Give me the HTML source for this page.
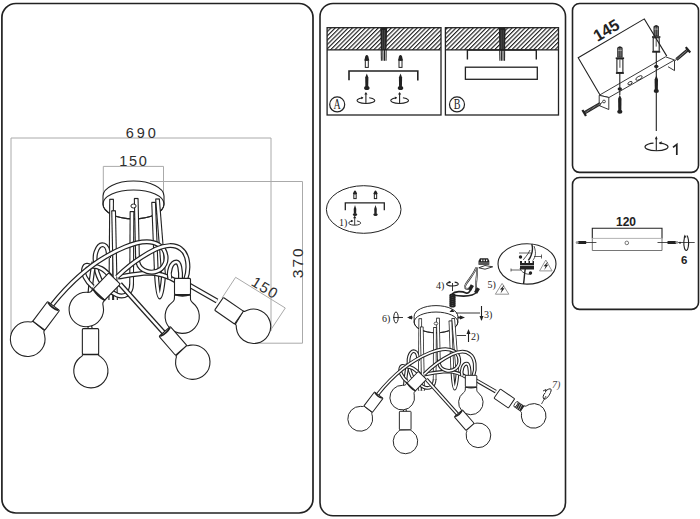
<!DOCTYPE html>
<html><head><meta charset="utf-8"><style>
html,body{margin:0;padding:0;background:#fff;width:700px;height:519px;overflow:hidden}
svg{display:block}
</style></head><body>
<svg width="700" height="519" viewBox="0 0 700 519">
<defs><pattern id="h" width="3.05" height="3.05" patternUnits="userSpaceOnUse" patternTransform="rotate(-45)"><rect x="0" y="0" width="3.05" height="1.15" fill="#222"/></pattern></defs><rect x="1.9" y="3.5" width="311.1" height="509.5" rx="14" ry="14" fill="none" stroke="#222" stroke-width="1.7"/><rect x="320" y="3.5" width="245.5" height="512.3" rx="13" ry="13" fill="none" stroke="#222" stroke-width="1.6"/><rect x="572.5" y="3.5" width="126.0" height="168.9" rx="7" ry="7" fill="none" stroke="#222" stroke-width="1.6"/><rect x="572.5" y="177.5" width="126.0" height="131.89999999999998" rx="7" ry="7" fill="none" stroke="#222" stroke-width="1.6"/><polyline points="11,334 11,138 271,138 271,331" fill="none" stroke="#aaaaaa" stroke-width="1"/><polyline points="103.3,196 103.3,166.4 163.5,166.4 163.5,198" fill="none" stroke="#aaaaaa" stroke-width="1"/><polyline points="150,181.5 302.5,181.5 302.5,343.2 253,343.2" fill="none" stroke="#aaaaaa" stroke-width="1"/><polyline points="222,298 235.6,277.3 285.3,308 270,331" fill="none" stroke="#aaaaaa" stroke-width="1"/><path d="M103,196 A30.5,15 0 0 1 164,196 L164,204 A30.5,15 0 0 1 103,204 Z" fill="#fff" stroke="#222" stroke-width="1.1"/><path d="M103,204 A30.5,14 0 0 1 164,204" fill="none" stroke="#222" stroke-width="1.1"/><path d="M103,204 A30.5,15 0 0 0 164,204" fill="none" stroke="#222" stroke-width="1.1"/><path d="M157.5,199 L163.6,275.5" fill="none" stroke="#222" stroke-width="4.8" stroke-linecap="butt"/><path d="M157.5,199 L163.6,275.5" fill="none" stroke="#fff" stroke-width="2.5999999999999996" stroke-linecap="butt"/><line x1="155.4" y1="199" x2="159.6" y2="199" stroke="#222" stroke-width="1.2"/><path d="M136.2,198.5 L137.5,258" fill="none" stroke="#222" stroke-width="4.8" stroke-linecap="butt"/><path d="M136.2,198.5 L137.5,258" fill="none" stroke="#fff" stroke-width="2.5999999999999996" stroke-linecap="butt"/><line x1="134.1" y1="198.5" x2="138.29999999999998" y2="198.5" stroke="#222" stroke-width="1.2"/><path d="M111.6,199.3 L110.8,300" fill="none" stroke="#222" stroke-width="4.8" stroke-linecap="butt"/><path d="M111.6,199.3 L110.8,300" fill="none" stroke="#fff" stroke-width="2.5999999999999996" stroke-linecap="butt"/><line x1="109.49999999999999" y1="199.3" x2="113.7" y2="199.3" stroke="#222" stroke-width="1.2"/><ellipse cx="133.5" cy="206" rx="2.6" ry="2" fill="#fff" stroke="#222" stroke-width="1"/><path d="M153.6,202.4 L156.2,268.7" fill="none" stroke="#222" stroke-width="4.8" stroke-linecap="butt"/><path d="M153.6,202.4 L156.2,268.7" fill="none" stroke="#fff" stroke-width="2.5999999999999996" stroke-linecap="butt"/><line x1="151.5" y1="202.4" x2="155.7" y2="202.4" stroke="#222" stroke-width="1.2"/><path d="M132,211.6 L131.6,285" fill="none" stroke="#222" stroke-width="4.8" stroke-linecap="butt"/><path d="M132,211.6 L131.6,285" fill="none" stroke="#fff" stroke-width="2.5999999999999996" stroke-linecap="butt"/><line x1="129.9" y1="211.6" x2="134.1" y2="211.6" stroke="#222" stroke-width="1.2"/><path d="M113.6,210.8 L115.5,300" fill="none" stroke="#222" stroke-width="4.8" stroke-linecap="butt"/><path d="M113.6,210.8 L115.5,300" fill="none" stroke="#fff" stroke-width="2.5999999999999996" stroke-linecap="butt"/><line x1="111.49999999999999" y1="210.8" x2="115.7" y2="210.8" stroke="#222" stroke-width="1.2"/><path d="M156.2,268 C157,288 158.6,297 159.6,297 C160.6,297 162.6,288 163.6,275" fill="none" stroke="#222" stroke-width="5.0" stroke-linecap="butt"/><path d="M156.2,268 C157,288 158.6,297 159.6,297 C160.6,297 162.6,288 163.6,275" fill="none" stroke="#fff" stroke-width="2.6" stroke-linecap="butt"/><path d="M131.6,284 C131.5,294 124,298 117,295 C108,291 100,283 97,272 C95,264 94,258 96,252 C98,246 101,244 104,245 C107,246 108.5,250 108.5,258" fill="none" stroke="#222" stroke-width="5.0" stroke-linecap="butt"/><path d="M131.6,284 C131.5,294 124,298 117,295 C108,291 100,283 97,272 C95,264 94,258 96,252 C98,246 101,244 104,245 C107,246 108.5,250 108.5,258" fill="none" stroke="#fff" stroke-width="2.6" stroke-linecap="butt"/><path d="M90,293 C91,280 93,268 94,262" fill="none" stroke="#222" stroke-width="5.0" stroke-linecap="butt"/><path d="M90,293 C91,280 93,268 94,262" fill="none" stroke="#fff" stroke-width="2.6" stroke-linecap="butt"/><path d="M93,287 C86,281 82,273 84,268 C85,264.5 88.5,264.5 91,267" fill="none" stroke="#222" stroke-width="5.0" stroke-linecap="butt"/><path d="M93,287 C86,281 82,273 84,268 C85,264.5 88.5,264.5 91,267" fill="none" stroke="#fff" stroke-width="2.6" stroke-linecap="butt"/><path d="M92,266.3 C99,266 104,269 111,277" fill="none" stroke="#222" stroke-width="5.0" stroke-linecap="butt"/><path d="M92,266.3 C99,266 104,269 111,277" fill="none" stroke="#fff" stroke-width="2.6" stroke-linecap="butt"/><path d="M118,277 C125,276 138,273.5 148,273 C158,273 166,275 176,281" fill="none" stroke="#222" stroke-width="5.0" stroke-linecap="butt"/><path d="M118,277 C125,276 138,273.5 148,273 C158,273 166,275 176,281" fill="none" stroke="#fff" stroke-width="2.6" stroke-linecap="butt"/><path d="M52,305 C72,280 98,258 125,247 C137,242 150,239 159,245 C167,250 169,262 161,269 C153,275 140,272 137.8,262 L137.5,256" fill="none" stroke="#222" stroke-width="5.0" stroke-linecap="butt"/><path d="M52,305 C72,280 98,258 125,247 C137,242 150,239 159,245 C167,250 169,262 161,269 C153,275 140,272 137.8,262 L137.5,256" fill="none" stroke="#fff" stroke-width="2.6" stroke-linecap="butt"/><path d="M117,277 C128,266 142,256 156,249 C165,245 175,244 181,249 C188,254 190,268 185.5,280" fill="none" stroke="#222" stroke-width="5.0" stroke-linecap="butt"/><path d="M117,277 C128,266 142,256 156,249 C165,245 175,244 181,249 C188,254 190,268 185.5,280" fill="none" stroke="#fff" stroke-width="2.6" stroke-linecap="butt"/><path d="M170,279 C168,272 171,262 176.4,262 C179.5,262 181,270 180.5,280" fill="none" stroke="#222" stroke-width="5.0" stroke-linecap="butt"/><path d="M170,279 C168,272 171,262 176.4,262 C179.5,262 181,270 180.5,280" fill="none" stroke="#fff" stroke-width="2.6" stroke-linecap="butt"/><path d="M120,284 L164,333" fill="none" stroke="#222" stroke-width="5.0" stroke-linecap="butt"/><path d="M120,284 L164,333" fill="none" stroke="#fff" stroke-width="2.6" stroke-linecap="butt"/><path d="M189,285 L217,301" fill="none" stroke="#222" stroke-width="5.0" stroke-linecap="butt"/><path d="M189,285 L217,301" fill="none" stroke="#fff" stroke-width="2.6" stroke-linecap="butt"/><path d="M90.5,330 L89.5,325" fill="none" stroke="#222" stroke-width="5.0" stroke-linecap="butt"/><path d="M90.5,330 L89.5,325" fill="none" stroke="#fff" stroke-width="2.6" stroke-linecap="butt"/><path d="M44.40,330.62 C43.19,332.08 43.81,331.61 44.64,335.34 A17.35,17.35 0 1 1 28.15,321.76 C31.96,321.85 31.61,322.55 32.82,321.09 Z" fill="#fff" stroke="#222" stroke-width="1.1"/><g transform="translate(46.2,315.8) rotate(37)"><rect x="-7.5" y="-12.3" width="15" height="24.6" rx="1" fill="#fff" stroke="#222" stroke-width="1.1"/><path d="M-6.5,-11.700000000000001 Q0,-9.3 6.5,-11.700000000000001" fill="none" stroke="#222" stroke-width="1.8"/></g><path d="M104.82,300.07 C102.90,302.33 102.38,302.33 103.15,306.03 A17.2,17.2 0 1 1 87.01,292.31 C90.79,292.47 90.71,291.96 92.63,289.70 Z" fill="#fff" stroke="#222" stroke-width="1.1"/><g transform="translate(106.7,286.6) rotate(44)"><rect x="-8.0" y="-11.2" width="16" height="22.4" rx="1" fill="#fff" stroke="#222" stroke-width="1.1"/><path d="M-8.0,11.2 Q0,13.7 8.0,11.2" fill="none" stroke="#222" stroke-width="1.6"/></g><path d="M98.65,354.48 C98.69,355.98 98.08,354.85 101.09,357.10 A17.1,17.1 0 1 1 80.04,357.55 C82.95,355.17 82.39,356.32 82.36,354.82 Z" fill="#fff" stroke="#222" stroke-width="1.1"/><g transform="translate(90.5,341.5) rotate(0)"><rect x="-8.15" y="-12.85" width="16.3" height="25.7" rx="1" fill="#fff" stroke="#222" stroke-width="1.1"/></g><path d="M190.50,295.01 C190.44,299.12 189.98,300.61 192.91,302.97 A17.1,17.1 0 1 1 171.86,302.68 C174.86,300.41 174.44,298.90 174.50,294.79 Z" fill="#fff" stroke="#222" stroke-width="1.1"/><g transform="translate(182.5,286.5) rotate(0)"><rect x="-8.0" y="-8.1" width="16" height="16.2" rx="1" fill="#fff" stroke="#222" stroke-width="1.1"/><path d="M-8.0,8.1 Q0,10.6 8.0,8.1" fill="none" stroke="#222" stroke-width="1.6"/></g><path d="M186.65,345.28 C187.74,346.39 187.07,345.55 190.82,345.11 A17.2,17.2 0 1 1 175.74,359.98 C176.23,356.23 177.06,356.92 175.97,355.81 Z" fill="#fff" stroke="#222" stroke-width="1.1"/><g transform="translate(172.9,340.9) rotate(-41)"><rect x="-7.5" y="-12.5" width="15" height="25" rx="1" fill="#fff" stroke="#222" stroke-width="1.1"/><path d="M-6.5,-11.9 Q0,-9.5 6.5,-11.9" fill="none" stroke="#222" stroke-width="1.8"/></g><path d="M243.29,311.05 C244.73,311.92 243.81,311.59 247.35,310.24 A17.2,17.2 0 1 1 236.43,328.38 C235.97,324.63 236.69,325.28 235.25,324.42 Z" fill="#fff" stroke="#222" stroke-width="1.1"/><g transform="translate(229,310.7) rotate(-55.5)"><rect x="-7.8" y="-12.15" width="15.6" height="24.3" rx="1" fill="#fff" stroke="#222" stroke-width="1.1"/></g><text x="142.2" y="138.2" font-family="Liberation Sans, sans-serif" fill="#2e2e2e" font-size="14.5" text-anchor="middle" letter-spacing="2.9">690</text><text x="133.8" y="166.3" font-family="Liberation Sans, sans-serif" fill="#2e2e2e" font-size="14.5" text-anchor="middle" letter-spacing="1.7">150</text><text x="0" y="0" font-family="Liberation Sans, sans-serif" fill="#2e2e2e" font-size="15.5" text-anchor="middle" letter-spacing="2.0" transform="translate(302.6,262.2) rotate(-90)">370</text><text x="0" y="0" font-family="Liberation Sans, sans-serif" fill="#2e2e2e" font-size="15" text-anchor="middle" letter-spacing="1.2" transform="translate(262.4,292.3) rotate(31.7)">150</text><rect x="327.1" y="27.7" width="113.9" height="22.2" fill="url(#h)" stroke="none"/><rect x="327.1" y="27.7" width="113.9" height="87.3" fill="none" stroke="#222" stroke-width="1.3"/><line x1="327.1" y1="49.9" x2="440.6" y2="49.9" stroke="#222" stroke-width="1.4"/><path d="M380.3,27.7 L387.1,27.7 L386.5,50 L380.90000000000003,50 Z" fill="#222"/><line x1="382.7" y1="30" x2="382.8" y2="50" stroke="#777" stroke-width="0.5"/><line x1="384.7" y1="30" x2="384.6" y2="50" stroke="#777" stroke-width="0.5"/><line x1="381.2" y1="49" x2="381.40000000000003" y2="60.8" stroke="#222" stroke-width="1.05"/><line x1="382.84999999999997" y1="49" x2="382.95000000000005" y2="60.8" stroke="#222" stroke-width="1.05"/><line x1="384.5" y1="49" x2="384.50000000000006" y2="60.8" stroke="#222" stroke-width="1.05"/><line x1="386.15" y1="49" x2="386.05" y2="60.8" stroke="#222" stroke-width="1.05"/><rect x="445.4" y="27.7" width="113.1" height="22.2" fill="url(#h)" stroke="none"/><rect x="445.4" y="27.7" width="113.1" height="87.3" fill="none" stroke="#222" stroke-width="1.3"/><line x1="445.4" y1="49.9" x2="558.9" y2="49.9" stroke="#222" stroke-width="1.4"/><path d="M498.8,27.7 L505.6,27.7 L505.0,50 L499.40000000000003,50 Z" fill="#222"/><line x1="501.2" y1="30" x2="501.3" y2="50" stroke="#777" stroke-width="0.5"/><line x1="503.2" y1="30" x2="503.1" y2="50" stroke="#777" stroke-width="0.5"/><line x1="499.7" y1="49" x2="499.90000000000003" y2="60.8" stroke="#222" stroke-width="1.05"/><line x1="501.34999999999997" y1="49" x2="501.45000000000005" y2="60.8" stroke="#222" stroke-width="1.05"/><line x1="503.0" y1="49" x2="503.00000000000006" y2="60.8" stroke="#222" stroke-width="1.05"/><line x1="504.65" y1="49" x2="504.55" y2="60.8" stroke="#222" stroke-width="1.05"/><polyline points="349,80.3 349,71 417.8,71 417.8,80.5" fill="none" stroke="#222" stroke-width="1.6"/><path d="M364.2,60.402 L364.8,58.602 L365.2,56.5 Q366.8,53.699999999999996 368.40000000000003,56.5 L368.8,58.602 L369.40000000000003,60.402 Z" fill="#222"/><rect x="365.3" y="60.402" width="3.0" height="6.998000000000006" fill="#fff" stroke="#222" stroke-width="1"/><path d="M366.8,73.5 L368.40000000000003,77.5 L368.24,87 L365.36,87 L365.2,77.5 Z" fill="#222"/><ellipse cx="366.8" cy="88" rx="2.75" ry="2.1153846153846154" fill="#222"/><path d="M369.22,97.76 A8.85,2.95 0 1 1 362.87,97.73" fill="none" stroke="#222" stroke-width="1.1"/><path d="M363.47,97.83 L361.07,96.43 L361.27,99.13 Z" fill="#222"/><line x1="365.90000000000003" y1="103.45" x2="365.90000000000003" y2="93.8" stroke="#222" stroke-width="1.1"/><path d="M364.3,94.5 L365.90000000000003,91.89999999999999 L367.50000000000006,94.5 Z" fill="#222"/><path d="M397.9,60.402 L398.5,58.602 L398.9,56.5 Q400.5,53.699999999999996 402.1,56.5 L402.5,58.602 L403.1,60.402 Z" fill="#222"/><rect x="399.0" y="60.402" width="3.0" height="6.998000000000006" fill="#fff" stroke="#222" stroke-width="1"/><path d="M400.5,73.5 L402.1,77.5 L401.94,87 L399.06,87 L398.9,77.5 Z" fill="#222"/><ellipse cx="400.5" cy="88" rx="2.75" ry="2.1153846153846154" fill="#222"/><path d="M402.92,97.76 A8.85,2.95 0 1 1 396.57,97.73" fill="none" stroke="#222" stroke-width="1.1"/><path d="M397.17,97.83 L394.77,96.43 L394.97,99.13 Z" fill="#222"/><line x1="399.6" y1="103.45" x2="399.6" y2="93.8" stroke="#222" stroke-width="1.1"/><path d="M398.0,94.5 L399.6,91.89999999999999 L401.20000000000005,94.5 Z" fill="#222"/><circle cx="337.2" cy="104.4" r="7.5" fill="none" stroke="#222" stroke-width="1.2"/><text x="0" y="0" font-family="Liberation Serif, serif" font-size="14" text-anchor="middle" fill="#222" transform="translate(337.2,109.2) scale(0.72,1)">A</text><polyline points="467.4,59.5 467.4,50 536.3,50 536.3,59.5" fill="none" stroke="#222" stroke-width="1.4"/><rect x="465.4" y="67.2" width="71.9" height="12.1" fill="none" stroke="#222" stroke-width="1.3"/><circle cx="457" cy="104.4" r="7.5" fill="none" stroke="#222" stroke-width="1.2"/><text x="0" y="0" font-family="Liberation Serif, serif" font-size="14" text-anchor="middle" fill="#222" transform="translate(457.2,109.2) scale(0.72,1)">B</text><ellipse cx="363.7" cy="209.5" rx="37.3" ry="23.8" fill="none" stroke="#222" stroke-width="1"/><polyline points="345.3,210.2 345.3,202.8 384.3,202.8 384.3,210.2" fill="none" stroke="#222" stroke-width="1.3"/><path d="M352.84999999999997,193.98 L353.45,192.18 L353.76,191.79999999999998 Q355,189.0 356.24,191.79999999999998 L356.55,192.18 L357.15000000000003,193.98 Z" fill="#222"/><rect x="353.8375" y="193.98" width="2.325" height="4.619999999999999" fill="#fff" stroke="#222" stroke-width="1"/><path d="M355,205 L356.3,209 L356.17,213.5 L353.83,213.5 L353.7,209 Z" fill="#222"/><ellipse cx="355" cy="214.5" rx="2.1" ry="1.6153846153846154" fill="#222"/><path d="M373.34999999999997,193.98 L373.95,192.18 L374.26,191.79999999999998 Q375.5,189.0 376.74,191.79999999999998 L377.05,192.18 L377.65000000000003,193.98 Z" fill="#222"/><rect x="374.3375" y="193.98" width="2.325" height="4.619999999999999" fill="#fff" stroke="#222" stroke-width="1"/><path d="M375.5,205 L376.8,209 L376.67,213.5 L374.33,213.5 L374.2,209 Z" fill="#222"/><ellipse cx="375.5" cy="214.5" rx="2.1" ry="1.6153846153846154" fill="#222"/><path d="M356.95,220.96 A6,2.2 0 1 1 352.65,220.93" fill="none" stroke="#222" stroke-width="0.9"/><path d="M353.25,221.03 L350.85,219.63 L351.05,222.33 Z" fill="#222"/><line x1="354.7" y1="225.2" x2="354.7" y2="217.5" stroke="#222" stroke-width="0.9"/><path d="M353.09999999999997,218.2 L354.7,215.6 L356.3,218.2 Z" fill="#222"/><text x="339" y="226" font-family="Liberation Serif, serif" font-size="10" fill="#222">1)</text><g transform="translate(340.4,176.0) scale(0.716)"><path d="M103,196 A30.5,15 0 0 1 164,196 L164,204 A30.5,15 0 0 1 103,204 Z" fill="#fff" stroke="#222" stroke-width="1.35"/><path d="M103,204 A30.5,14 0 0 1 164,204" fill="none" stroke="#222" stroke-width="1.35"/><path d="M103,204 A30.5,15 0 0 0 164,204" fill="none" stroke="#222" stroke-width="1.35"/><path d="M157.5,199 L163.6,275.5" fill="none" stroke="#222" stroke-width="5.0" stroke-linecap="butt"/><path d="M157.5,199 L163.6,275.5" fill="none" stroke="#fff" stroke-width="2.8" stroke-linecap="butt"/><line x1="155.3" y1="199" x2="159.7" y2="199" stroke="#222" stroke-width="1.2"/><path d="M136.2,198.5 L137.5,258" fill="none" stroke="#222" stroke-width="5.0" stroke-linecap="butt"/><path d="M136.2,198.5 L137.5,258" fill="none" stroke="#fff" stroke-width="2.8" stroke-linecap="butt"/><line x1="134.0" y1="198.5" x2="138.39999999999998" y2="198.5" stroke="#222" stroke-width="1.2"/><path d="M111.6,199.3 L110.8,300" fill="none" stroke="#222" stroke-width="5.0" stroke-linecap="butt"/><path d="M111.6,199.3 L110.8,300" fill="none" stroke="#fff" stroke-width="2.8" stroke-linecap="butt"/><line x1="109.39999999999999" y1="199.3" x2="113.8" y2="199.3" stroke="#222" stroke-width="1.2"/><ellipse cx="133.5" cy="206" rx="2.6" ry="2" fill="#fff" stroke="#222" stroke-width="1"/><path d="M153.6,202.4 L156.2,268.7" fill="none" stroke="#222" stroke-width="5.0" stroke-linecap="butt"/><path d="M153.6,202.4 L156.2,268.7" fill="none" stroke="#fff" stroke-width="2.8" stroke-linecap="butt"/><line x1="151.4" y1="202.4" x2="155.79999999999998" y2="202.4" stroke="#222" stroke-width="1.2"/><path d="M132,211.6 L131.6,285" fill="none" stroke="#222" stroke-width="5.0" stroke-linecap="butt"/><path d="M132,211.6 L131.6,285" fill="none" stroke="#fff" stroke-width="2.8" stroke-linecap="butt"/><line x1="129.8" y1="211.6" x2="134.2" y2="211.6" stroke="#222" stroke-width="1.2"/><path d="M113.6,210.8 L115.5,300" fill="none" stroke="#222" stroke-width="5.0" stroke-linecap="butt"/><path d="M113.6,210.8 L115.5,300" fill="none" stroke="#fff" stroke-width="2.8" stroke-linecap="butt"/><line x1="111.39999999999999" y1="210.8" x2="115.8" y2="210.8" stroke="#222" stroke-width="1.2"/><path d="M156.2,268 C157,288 158.6,297 159.6,297 C160.6,297 162.6,288 163.6,275" fill="none" stroke="#222" stroke-width="5.2" stroke-linecap="butt"/><path d="M156.2,268 C157,288 158.6,297 159.6,297 C160.6,297 162.6,288 163.6,275" fill="none" stroke="#fff" stroke-width="2.3" stroke-linecap="butt"/><path d="M131.6,284 C131.5,294 124,298 117,295 C108,291 100,283 97,272 C95,264 94,258 96,252 C98,246 101,244 104,245 C107,246 108.5,250 108.5,258" fill="none" stroke="#222" stroke-width="5.2" stroke-linecap="butt"/><path d="M131.6,284 C131.5,294 124,298 117,295 C108,291 100,283 97,272 C95,264 94,258 96,252 C98,246 101,244 104,245 C107,246 108.5,250 108.5,258" fill="none" stroke="#fff" stroke-width="2.3" stroke-linecap="butt"/><path d="M90,293 C91,280 93,268 94,262" fill="none" stroke="#222" stroke-width="5.2" stroke-linecap="butt"/><path d="M90,293 C91,280 93,268 94,262" fill="none" stroke="#fff" stroke-width="2.3" stroke-linecap="butt"/><path d="M93,287 C86,281 82,273 84,268 C85,264.5 88.5,264.5 91,267" fill="none" stroke="#222" stroke-width="5.2" stroke-linecap="butt"/><path d="M93,287 C86,281 82,273 84,268 C85,264.5 88.5,264.5 91,267" fill="none" stroke="#fff" stroke-width="2.3" stroke-linecap="butt"/><path d="M92,266.3 C99,266 104,269 111,277" fill="none" stroke="#222" stroke-width="5.2" stroke-linecap="butt"/><path d="M92,266.3 C99,266 104,269 111,277" fill="none" stroke="#fff" stroke-width="2.3" stroke-linecap="butt"/><path d="M118,277 C125,276 138,273.5 148,273 C158,273 166,275 176,281" fill="none" stroke="#222" stroke-width="5.2" stroke-linecap="butt"/><path d="M118,277 C125,276 138,273.5 148,273 C158,273 166,275 176,281" fill="none" stroke="#fff" stroke-width="2.3" stroke-linecap="butt"/><path d="M52,305 C72,280 98,258 125,247 C137,242 150,239 159,245 C167,250 169,262 161,269 C153,275 140,272 137.8,262 L137.5,256" fill="none" stroke="#222" stroke-width="5.2" stroke-linecap="butt"/><path d="M52,305 C72,280 98,258 125,247 C137,242 150,239 159,245 C167,250 169,262 161,269 C153,275 140,272 137.8,262 L137.5,256" fill="none" stroke="#fff" stroke-width="2.3" stroke-linecap="butt"/><path d="M117,277 C128,266 142,256 156,249 C165,245 175,244 181,249 C188,254 190,268 185.5,280" fill="none" stroke="#222" stroke-width="5.2" stroke-linecap="butt"/><path d="M117,277 C128,266 142,256 156,249 C165,245 175,244 181,249 C188,254 190,268 185.5,280" fill="none" stroke="#fff" stroke-width="2.3" stroke-linecap="butt"/><path d="M170,279 C168,272 171,262 176.4,262 C179.5,262 181,270 180.5,280" fill="none" stroke="#222" stroke-width="5.2" stroke-linecap="butt"/><path d="M170,279 C168,272 171,262 176.4,262 C179.5,262 181,270 180.5,280" fill="none" stroke="#fff" stroke-width="2.3" stroke-linecap="butt"/><path d="M120,284 L164,333" fill="none" stroke="#222" stroke-width="5.2" stroke-linecap="butt"/><path d="M120,284 L164,333" fill="none" stroke="#fff" stroke-width="2.3" stroke-linecap="butt"/><path d="M189,285 L217,301" fill="none" stroke="#222" stroke-width="5.2" stroke-linecap="butt"/><path d="M189,285 L217,301" fill="none" stroke="#fff" stroke-width="2.3" stroke-linecap="butt"/><path d="M90.5,330 L89.5,325" fill="none" stroke="#222" stroke-width="5.2" stroke-linecap="butt"/><path d="M90.5,330 L89.5,325" fill="none" stroke="#fff" stroke-width="2.3" stroke-linecap="butt"/><path d="M44.40,330.62 C43.19,332.08 43.81,331.61 44.64,335.34 A17.35,17.35 0 1 1 28.15,321.76 C31.96,321.85 31.61,322.55 32.82,321.09 Z" fill="#fff" stroke="#222" stroke-width="1.35"/><g transform="translate(46.2,315.8) rotate(37)"><rect x="-7.5" y="-12.3" width="15" height="24.6" rx="1" fill="#fff" stroke="#222" stroke-width="1.35"/><path d="M-6.5,-11.700000000000001 Q0,-9.3 6.5,-11.700000000000001" fill="none" stroke="#222" stroke-width="1.8"/></g><path d="M104.82,300.07 C102.90,302.33 102.38,302.33 103.15,306.03 A17.2,17.2 0 1 1 87.01,292.31 C90.79,292.47 90.71,291.96 92.63,289.70 Z" fill="#fff" stroke="#222" stroke-width="1.35"/><g transform="translate(106.7,286.6) rotate(44)"><rect x="-8.0" y="-11.2" width="16" height="22.4" rx="1" fill="#fff" stroke="#222" stroke-width="1.35"/><path d="M-8.0,11.2 Q0,13.7 8.0,11.2" fill="none" stroke="#222" stroke-width="1.6"/></g><path d="M98.65,354.48 C98.69,355.98 98.08,354.85 101.09,357.10 A17.1,17.1 0 1 1 80.04,357.55 C82.95,355.17 82.39,356.32 82.36,354.82 Z" fill="#fff" stroke="#222" stroke-width="1.35"/><g transform="translate(90.5,341.5) rotate(0)"><rect x="-8.15" y="-12.85" width="16.3" height="25.7" rx="1" fill="#fff" stroke="#222" stroke-width="1.35"/></g><path d="M190.50,295.01 C190.44,299.12 189.98,300.61 192.91,302.97 A17.1,17.1 0 1 1 171.86,302.68 C174.86,300.41 174.44,298.90 174.50,294.79 Z" fill="#fff" stroke="#222" stroke-width="1.35"/><g transform="translate(182.5,286.5) rotate(0)"><rect x="-8.0" y="-8.1" width="16" height="16.2" rx="1" fill="#fff" stroke="#222" stroke-width="1.35"/><path d="M-8.0,8.1 Q0,10.6 8.0,8.1" fill="none" stroke="#222" stroke-width="1.6"/></g><path d="M186.65,345.28 C187.74,346.39 187.07,345.55 190.82,345.11 A17.2,17.2 0 1 1 175.74,359.98 C176.23,356.23 177.06,356.92 175.97,355.81 Z" fill="#fff" stroke="#222" stroke-width="1.35"/><g transform="translate(172.9,340.9) rotate(-41)"><rect x="-7.5" y="-12.5" width="15" height="25" rx="1" fill="#fff" stroke="#222" stroke-width="1.35"/><path d="M-6.5,-11.9 Q0,-9.5 6.5,-11.9" fill="none" stroke="#222" stroke-width="1.8"/></g><g transform="translate(229,310.7) rotate(-55.5)"><rect x="-7.8" y="-12.15" width="15.6" height="24.3" rx="1" fill="#fff" stroke="#222" stroke-width="1.35"/></g></g><path d="M523.97,405.83 C525.75,406.97 527.05,405.20 529.61,404.30 A12.3,12.3 0 1 1 521.46,417.07 C521.20,414.37 522.25,412.45 520.47,411.31 Z" fill="#fff" stroke="#222" stroke-width="1.0"/><g transform="translate(519.1,406.4) rotate(-55)"><rect x="-3.4" y="-3.8" width="6.8" height="7.6" rx="0.8" fill="#222"/><line x1="-3" y1="-1.8" x2="3" y2="-2.6" stroke="#fff" stroke-width="0.5"/><line x1="-3" y1="0.2" x2="3" y2="-0.6" stroke="#fff" stroke-width="0.5"/><line x1="-3" y1="2.2" x2="3" y2="1.4" stroke="#fff" stroke-width="0.5"/><ellipse cx="0" cy="-3.8" rx="3.2" ry="1.3" fill="#fff" stroke="#222" stroke-width="0.8"/></g><path d="M541.5,404 L546,396" stroke="#222" stroke-width="0.8" fill="none"/><path d="M545,391.5 C549,388 552,388 551,391 C550,395 546,400 544,399 C542.5,398 543,395 545,393" transform="rotate(0)" fill="none" stroke="#222" stroke-width="1"/><path d="M543,391 L546,389.5 L545.5,392.5" fill="none" stroke="#222" stroke-width="0.9"/><text x="552" y="387.5" font-family="Liberation Serif, serif" font-size="10" font-style="italic" fill="#444">7)</text><text x="382" y="321.5" font-family="Liberation Serif, serif" font-size="10" fill="#222">6)</text><ellipse cx="396" cy="317.5" rx="2.2" ry="5.5" fill="none" stroke="#222" stroke-width="1"/><line x1="393" y1="317.5" x2="403" y2="317.5" stroke="#222" stroke-width="0.9"/><path d="M407,317.5 L412,315.5 L412,319.5 Z" fill="#222"/><rect x="409" y="316.5" width="3.5" height="2" fill="#222"/><path d="M465,317.5 L460,315.5 L460,319.5 Z" fill="#222"/><rect x="458" y="316.5" width="3.5" height="2" fill="#222"/><line x1="456" y1="313" x2="480" y2="313" stroke="#222" stroke-width="0.9"/><line x1="481.5" y1="306" x2="481.5" y2="320" stroke="#222" stroke-width="1.1"/><path d="M479.5,316 L481.5,321 L483.5,316 Z" fill="#222"/><text x="484" y="318" font-family="Liberation Serif, serif" font-size="10" fill="#222">3)</text><line x1="456.7" y1="335.5" x2="466" y2="335.5" stroke="#222" stroke-width="0.9"/><line x1="468.5" y1="331" x2="468.5" y2="342" stroke="#222" stroke-width="1.1"/><path d="M466.5,334 L468.5,329 L470.5,334 Z" fill="#222"/><text x="471" y="339.5" font-family="Liberation Serif, serif" font-size="10" fill="#222">2)</text><path d="M452,309 L449.5,312 L454.5,312 Z" fill="#222"/><ellipse cx="452.5" cy="295.5" rx="2.3" ry="1.1" fill="none" stroke="#222" stroke-width="1.8"/><ellipse cx="452.5" cy="297.5" rx="2.3" ry="1.1" fill="none" stroke="#222" stroke-width="1.8"/><ellipse cx="452.5" cy="299.5" rx="2.3" ry="1.1" fill="none" stroke="#222" stroke-width="1.8"/><ellipse cx="452.5" cy="301.5" rx="2.3" ry="1.1" fill="none" stroke="#222" stroke-width="1.8"/><ellipse cx="452.5" cy="303.5" rx="2.3" ry="1.1" fill="none" stroke="#222" stroke-width="1.8"/><ellipse cx="452.5" cy="305.5" rx="2.3" ry="1.1" fill="none" stroke="#222" stroke-width="1.8"/><path d="M452,294 C455,291 462,291 466,293 C469,294 470,291 471,289" fill="none" stroke="#222" stroke-width="1.6"/><path d="M452,295 C458,296 466,297 472,295 C475,294 476,293 477,292" fill="none" stroke="#222" stroke-width="1.6"/><path d="M469.5,288.5 C465,290 464,287 466,284 C470,278 475,272 476.3,267.5" fill="none" stroke="#222" stroke-width="1.9" stroke-linecap="butt"/><path d="M469.5,288.5 C465,290 464,287 466,284 C470,278 475,272 476.3,267.5" fill="none" stroke="#fff" stroke-width="0.7" stroke-linecap="butt"/><path d="M476.5,291 C475,285 477,278 477,273 C477,270 477,268 477,267.5" fill="none" stroke="#222" stroke-width="1.9" stroke-linecap="butt"/><path d="M476.5,291 C475,285 477,278 477,273 C477,270 477,268 477,267.5" fill="none" stroke="#fff" stroke-width="0.7" stroke-linecap="butt"/><g transform="translate(471,287.5) rotate(30)"><rect x="-1.8" y="-2.8" width="3.6" height="5.6" fill="#222"/></g><g transform="translate(477,290.5) rotate(30)"><rect x="-1.8" y="-2.8" width="3.6" height="5.6" fill="#222"/></g><path d="M478.5,264.8 L478.5,261 L480,258.2 L488,258.2 L489.3,261 L489.3,264.8 Z" fill="#222"/><rect x="481" y="259.6" width="1.3" height="1.6" fill="#fff"/><rect x="483.5" y="259.6" width="1.3" height="1.6" fill="#fff"/><rect x="486" y="259.6" width="1.3" height="1.6" fill="#fff"/><line x1="479" y1="263" x2="489" y2="263" stroke="#fff" stroke-width="0.5"/><path d="M478.8,267.8 L485,265.5 L492.7,266.8 L485,269.2 Z" fill="none" stroke="#222" stroke-width="0.9"/><text x="436" y="289" font-family="Liberation Serif, serif" font-size="10" fill="#222">4)</text><path d="M454.67,282.15 A5.8,2 0 1 1 450.52,282.12" fill="none" stroke="#222" stroke-width="1.1"/><path d="M451.12,282.22 L448.72,280.82 L448.92,283.52 Z" fill="#222"/><line x1="452.5" y1="283" x2="452.5" y2="291" stroke="#222" stroke-width="0.9"/><text x="487.5" y="287.5" font-family="Liberation Serif, serif" font-size="10" fill="#222">5)</text><path d="M495.35,294.2 L502.1,283.4 L508.85,294.2 Z" fill="none" stroke="#8a8a8a" stroke-width="0.9"/><path d="M503.70000000000005,285.59999999999997 L499.90000000000003,289.6 L501.90000000000003,289.6 L500.5,293.4 L504.5,288.2 L502.5,288.2 L504.3,285.59999999999997 Z" fill="#222"/><path d="M539.55,270.9 L545.8,260.0 L552.05,270.9 Z" fill="none" stroke="#8a8a8a" stroke-width="0.9"/><path d="M547.4,262.2 L543.5999999999999,266.25 L545.5999999999999,266.25 L544.1999999999999,270.09999999999997 L548.1999999999999,264.84999999999997 L546.1999999999999,264.84999999999997 L548.0,262.2 Z" fill="#222"/><ellipse cx="527" cy="263.9" rx="29" ry="20.2" fill="none" stroke="#222" stroke-width="1.1"/><path d="M531.8,244 C534,252 531,257 528,261 C524,266 525,276 523.5,284" fill="none" stroke="#222" stroke-width="1.4"/><path d="M534,246 C537,254 535,259 531,262" fill="none" stroke="#222" stroke-width="0.8"/><path d="M530,250 C528,255 524,258 522,262" fill="none" stroke="#222" stroke-width="0.8"/><path d="M520,268 C521,272 526,275 531,274" fill="none" stroke="#222" stroke-width="0.8"/><rect x="520" y="261" width="14" height="8.5" fill="#222"/><rect x="522" y="260" width="2.5" height="3" fill="#fff"/><rect x="526" y="260" width="2.5" height="3" fill="#fff"/><rect x="530" y="260" width="2.5" height="3" fill="#fff"/><line x1="520" y1="265.5" x2="534" y2="265.5" stroke="#fff" stroke-width="0.6"/><circle cx="520.5" cy="257" r="1.7" fill="#222"/><circle cx="530.5" cy="273" r="1.7" fill="#222"/><line x1="519" y1="253" x2="531" y2="253" stroke="#222" stroke-width="0.7"/><line x1="534" y1="256.5" x2="541.5" y2="256.5" stroke="#222" stroke-width="0.7"/><line x1="541.5" y1="254.5" x2="541.5" y2="258.5" stroke="#222" stroke-width="0.7"/><line x1="511" y1="270" x2="521" y2="270" stroke="#222" stroke-width="0.7"/><line x1="511" y1="268.5" x2="511" y2="271.5" stroke="#222" stroke-width="0.7"/><text x="0" y="0" font-family="Liberation Sans, sans-serif" font-weight="bold" font-size="16.3" text-anchor="middle" fill="#222" transform="translate(606.3,30.3) rotate(-30.5) translate(0,5.5)">145</text><path d="M599.2,95.3 L665.5,56.8 L674.5,60 L609,97.5 Z" fill="#fff" stroke="#222" stroke-width="0.9"/><path d="M599.2,95.3 L599.2,105.6 L608.8,109.5 L608.8,97.5 Z" fill="#fff" stroke="#222" stroke-width="0.9"/><path d="M674.5,60.5 L674.5,70.6 L668,66.7" fill="none" stroke="#222" stroke-width="0.9"/><circle cx="604" cy="101.5" r="1.4" fill="none" stroke="#222" stroke-width="0.8"/><ellipse cx="630" cy="83.1" rx="2.4" ry="1.3" transform="rotate(-30 630 83.1)" fill="none" stroke="#222" stroke-width="0.8"/><ellipse cx="639" cy="78" rx="3.6" ry="1.6" transform="rotate(-30 639 78)" fill="none" stroke="#222" stroke-width="0.8"/><line x1="602.4" y1="102.4" x2="600.2396922287863" y2="103.65820122938818" stroke="#222" stroke-width="1"/><line x1="600.2396922287863" y1="103.65820122938818" x2="584.2" y2="113" stroke="#222" stroke-width="3.2"/><line x1="599.8076306745436" y1="103.90984147526582" x2="584.6320615542428" y2="112.74835975412236" stroke="#8a8a8a" stroke-width="1.4" stroke-dasharray="0.8,0.6"/><line x1="582.4385182788566" y1="109.97556912030089" x2="585.9614817211435" y2="116.02443087969911" stroke="#222" stroke-width="2.2"/><line x1="674.5" y1="61" x2="676.424053245068" y2="59.40374841890655" stroke="#222" stroke-width="1"/><line x1="676.424053245068" y1="59.40374841890655" x2="688" y2="49.8" stroke="#222" stroke-width="3.2"/><line x1="676.8088638940816" y1="59.08449810268786" x2="687.6151893509864" y2="50.11925031621869" stroke="#8a8a8a" stroke-width="1.4" stroke-dasharray="0.8,0.6"/><line x1="690.2347522135308" y1="52.49367454309519" x2="685.7652477864692" y2="47.106325456904806" stroke="#222" stroke-width="2.2"/><path d="M617.1999999999999,57.4 L617.1999999999999,47.8 Q619.9,44.8 622.6,47.8 L622.6,57.4 Z" fill="#222"/><line x1="618.9" y1="48.0" x2="618.9" y2="56.8" stroke="#fff" stroke-width="0.5"/><line x1="620.9" y1="48.0" x2="620.9" y2="56.8" stroke="#fff" stroke-width="0.5"/><line x1="617.9" y1="50.3" x2="621.9" y2="50.3" stroke="#fff" stroke-width="0.5"/><rect x="615.6999999999999" y="57.4" width="8.4" height="1.6" fill="#222"/><rect x="616.9" y="59.0" width="6" height="13.5" fill="#fff" stroke="#222" stroke-width="1.1"/><line x1="619.9" y1="59.8" x2="619.9" y2="67.8" stroke="#222" stroke-width="0.8"/><rect x="615.9" y="72.3" width="8" height="1.6" fill="#222"/><path d="M653.5,36.2 L653.5,26.6 Q656.2,23.6 658.9000000000001,26.6 L658.9000000000001,36.2 Z" fill="#222"/><line x1="655.2" y1="26.8" x2="655.2" y2="35.6" stroke="#fff" stroke-width="0.5"/><line x1="657.2" y1="26.8" x2="657.2" y2="35.6" stroke="#fff" stroke-width="0.5"/><line x1="654.2" y1="29.1" x2="658.2" y2="29.1" stroke="#fff" stroke-width="0.5"/><rect x="652.0" y="36.2" width="8.4" height="1.6" fill="#222"/><rect x="653.2" y="37.8" width="6" height="13.5" fill="#fff" stroke="#222" stroke-width="1.1"/><line x1="656.2" y1="38.6" x2="656.2" y2="46.6" stroke="#222" stroke-width="0.8"/><rect x="652.2" y="51.1" width="8" height="1.6" fill="#222"/><polyline points="599.9,94.7 578.2,57.7 644.3,18.9 666.8,56.1" fill="none" stroke="#222" stroke-width="1.1"/><line x1="619.8" y1="72" x2="619.8" y2="95" stroke="#222" stroke-width="1.1"/><line x1="656.3" y1="52" x2="656.3" y2="131" stroke="#222" stroke-width="1.1"/><ellipse cx="619.8" cy="88.9" rx="2.2" ry="1.6" fill="#222"/><ellipse cx="656.3" cy="66.4" rx="2.2" ry="1.6" fill="#222"/><path d="M619.8,94.7 L621.5,98.7 L621.3299999999999,110.7 L618.27,110.7 L618.0999999999999,98.7 Z" fill="#222"/><ellipse cx="619.8" cy="111.7" rx="2.6" ry="2.0" fill="#222"/><path d="M656.3,75.4 L658.0,79.4 L657.8299999999999,90.1 L654.77,90.1 L654.5999999999999,79.4 Z" fill="#222"/><ellipse cx="656.3" cy="91.1" rx="2.6" ry="2.0" fill="#222"/><path d="M653.5,143.1 A11.5,3.9 0 1 0 659.5,143.1" fill="none" stroke="#222" stroke-width="1.2"/><path d="M658.6,143 L661.8,141.2 L661.2,144.6 Z" fill="#222"/><line x1="656.3" y1="150.8" x2="656.3" y2="137.5" stroke="#222" stroke-width="1.1"/><path d="M654.9,139.2 L656.3,136 L657.7,139.2 Z" fill="#222"/><path d="M676.8,154.9 L676.8,144.4 L673,147.4" fill="none" stroke="#222" stroke-width="1.7" stroke-linejoin="miter"/><path d="M592.3,238.4 L592.3,228.2 L662,228.2 L662,238.4" fill="none" stroke="#222" stroke-width="1.1"/><path d="M592.3,238.4 L592.3,250.5 L662,250.5 L662,238.4" fill="none" stroke="#666" stroke-width="0.9"/><line x1="592.3" y1="238.4" x2="662" y2="238.4" stroke="#aaa" stroke-width="0.9"/><circle cx="626.8" cy="242.9" r="1.8" fill="none" stroke="#555" stroke-width="0.8"/><text x="626" y="226" font-family="Liberation Sans, sans-serif" font-weight="bold" font-size="12" text-anchor="middle" fill="#222">120</text><line x1="576.5" y1="242.5" x2="596.4" y2="242.5" stroke="#222" stroke-width="0.8"/><rect x="578" y="241.1" width="8.2" height="2.8" rx="0.5" fill="#222"/><circle cx="577.2" cy="242.5" r="1.5" fill="#999"/><line x1="657.5" y1="242.5" x2="694.7" y2="242.5" stroke="#222" stroke-width="0.8"/><circle cx="680" cy="242.7" r="1" fill="#222"/><rect x="667.5" y="241.1" width="8.5" height="2.8" rx="0.5" fill="#222"/><circle cx="676.8" cy="242.5" r="1.4" fill="#999"/><path d="M685.2,236 A2.4,7.6 0 1 0 686.8,235.5" fill="none" stroke="#222" stroke-width="1.1"/><path d="M683.6,237.5 L684.8,234.6 L686.3,237.4 Z" fill="#222"/><text x="684.1" y="264.4" font-family="Liberation Sans, sans-serif" font-weight="bold" font-size="11.5" text-anchor="middle" fill="#222">6</text>
</svg></body></html>
